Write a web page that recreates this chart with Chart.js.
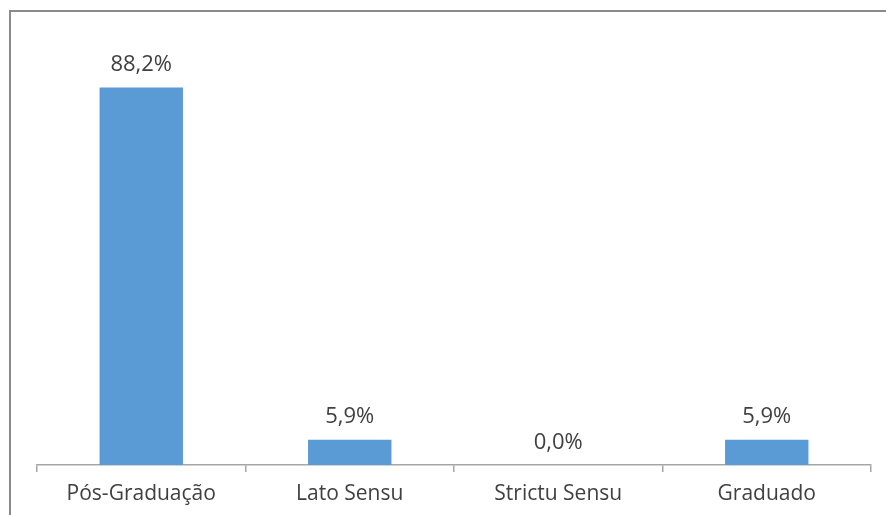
<!DOCTYPE html>
<html lang="pt">
<head>
  <meta charset="UTF-8" />
  <title>Formação</title>
  <script src="https://cdn.jsdelivr.net/npm/chart.js"></script>
  <style>
    html, body { margin: 0; padding: 0; background: #fff; overflow: hidden; }
    canvas { display: block; }
  </style>
</head>
<body>
  <canvas id="chart" width="886" height="515"></canvas>
  <script>
    // Dados
    const categorias = ['Pós-Graduação', 'Lato Sensu', 'Strictu Sensu', 'Graduado'];
    const percentuais = [88.2, 5.9, 0.0, 5.9];

    const fonte = "'Open Sans', 'DejaVu Sans', sans-serif";
    const corTexto = '#404040';

    // moldura cinza em volta do gráfico
    const moldura = {
      id: 'moldura',
      beforeDraw(chart) {
        const ctx = chart.ctx;
        ctx.save();
        ctx.strokeStyle = '#8a8a8a';
        ctx.lineWidth = 2;
        ctx.strokeRect(10, 11, 900, 600);
        ctx.restore();
      }
    };

    // rótulos de valor acima das barras
    const rotulos = {
      id: 'rotulos',
      afterDatasetsDraw(chart) {
        const ctx = chart.ctx;
        const meta = chart.getDatasetMeta(0);
        ctx.save();
        ctx.font = "22px " + fonte;
        ctx.fillStyle = corTexto;
        ctx.textAlign = 'center';
        ctx.textBaseline = 'alphabetic';
        meta.data.forEach((bar, i) => {
          const txt = percentuais[i].toFixed(1).replace('.', ',') + '%';
          ctx.fillText(txt, bar.x, bar.y - 16.5);
        });
        ctx.restore();
      }
    };

    new Chart(document.getElementById('chart'), {
      type: 'bar',
      data: {
        labels: categorias,
        datasets: [{
          data: percentuais,
          backgroundColor: '#5b9bd5',
          borderWidth: 0,
          categoryPercentage: 1.0,
          barPercentage: 0.4
        }]
      },
      options: {
        responsive: false,
        animation: false,
        devicePixelRatio: 1,
        layout: { padding: { left: 37, right: 15, top: 37, bottom: -2 } },
        plugins: {
          legend: { display: false },
          tooltip: { enabled: false }
        },
        scales: {
          x: {
            grid: {
              offset: true,
              drawOnChartArea: false,
              drawTicks: true,
              tickLength: 7,
              color: '#a6a6a6',
              lineWidth: 1.5
            },
            border: { display: true, color: '#a6a6a6', width: 1.5 },
            ticks: {
              color: corTexto,
              font: { family: fonte, size: 21, lineHeight: 1.0 },
              padding: 12,
              maxRotation: 0
            }
          },
          y: {
            display: false,
            min: 0,
            max: 100
          }
        }
      },
      plugins: [moldura, rotulos]
    });
  </script>
</body>
</html>
